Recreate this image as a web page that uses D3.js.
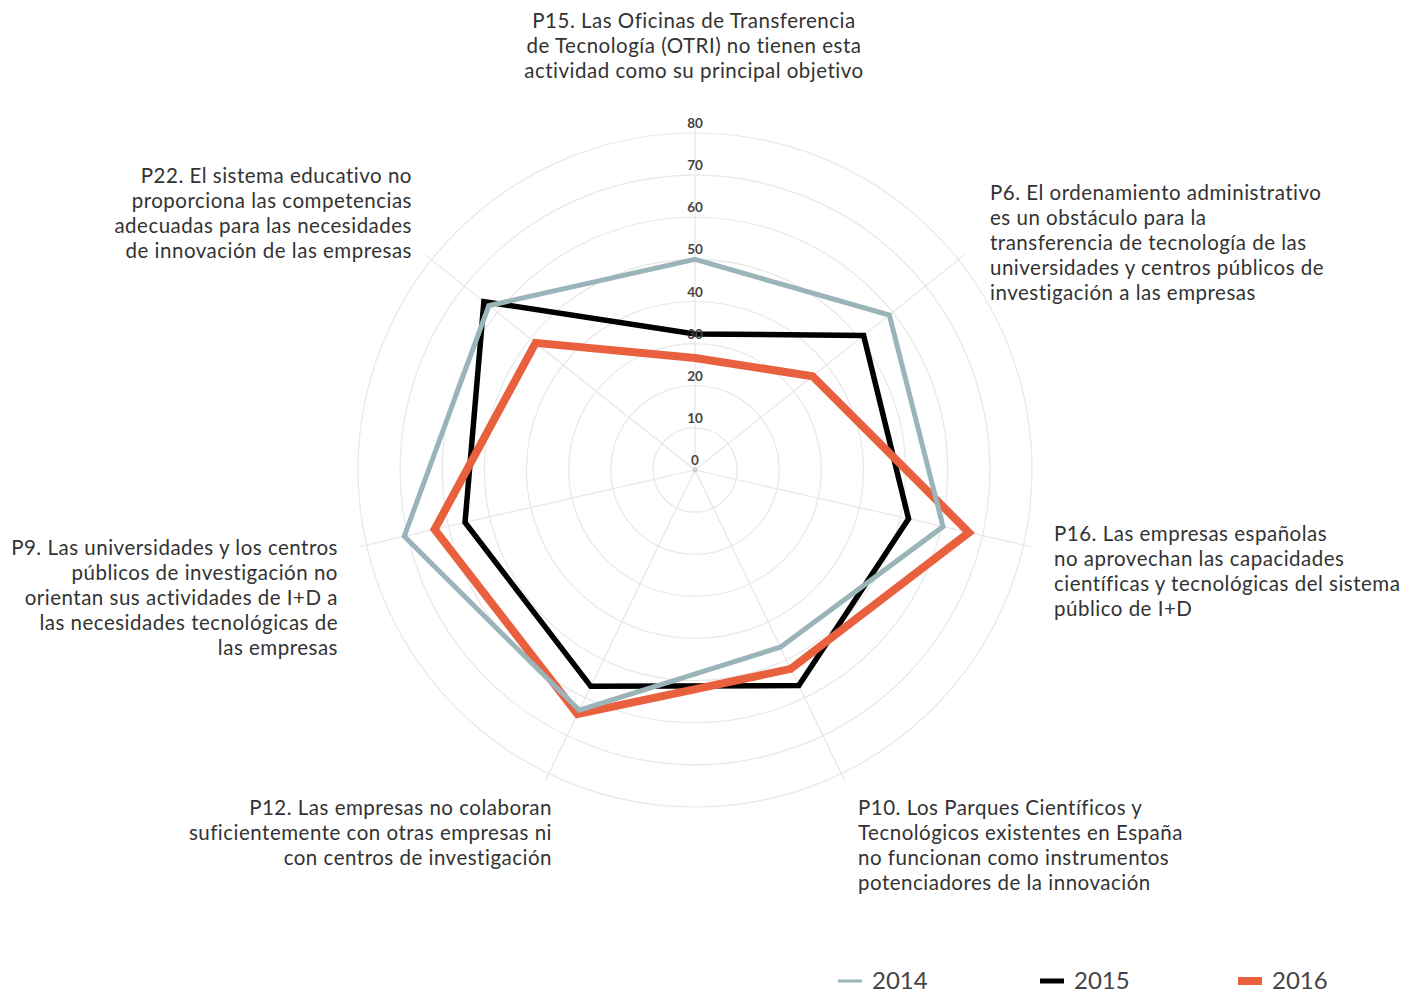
<!DOCTYPE html>
<html>
<head>
<meta charset="utf-8">
<script src="https://cdn.jsdelivr.net/npm/d3@7"></script>
<style>
  html, body { margin: 0; padding: 0; background: #fff; }
  svg { display: block; }
  text { font-family: Lato, "Open Sans", sans-serif; font-variant-ligatures: none; }
</style>
</head>
<body>
<svg id="chart" width="1411" height="995"></svg>
<script>
// Axes of the radar, clockwise from the top
const categories = ["P15", "P6", "P16", "P10", "P12", "P9", "P22"];

const categoryLabels = [
  ["P15. Las Oficinas de Transferencia", "de Tecnología (OTRI) no tienen esta", "actividad como su principal objetivo"],
  ["P6. El ordenamiento administrativo", "es un obstáculo para la", "transferencia de tecnología de las", "universidades y centros públicos de", "investigación a las empresas"],
  ["P16. Las empresas españolas", "no aprovechan las capacidades", "científicas y tecnológicas del sistema", "público de I+D"],
  ["P10. Los Parques Científicos y", "Tecnológicos existentes en España", "no funcionan como instrumentos", "potenciadores de la innovación"],
  ["P12. Las empresas no colaboran", "suficientemente con otras empresas ni", "con centros de investigación"],
  ["P9. Las universidades y los centros", "públicos de investigación no", "orientan sus actividades de I+D a", "las necesidades tecnológicas de", "las empresas"],
  ["P22. El sistema educativo no", "proporciona las competencias", "adecuadas para las necesidades", "de innovación de las empresas"]
];

const seriesNames = ["2014", "2015", "2016"];
const values2014 = [50, 59, 60.4, 46.7, 63.3, 70.8, 62.6];
const values2015 = [32.3, 51.2, 52, 56.8, 57, 56, 64.1];
const values2016 = [26.6, 35.7, 66.7, 52.4, 64.3, 63.4, 48.4];

const radialTicks = [0, 10, 20, 30, 40, 50, 60, 70, 80];

const colors = { "2014": "#9bb4ba", "2015": "#000000", "2016": "#e9603f" };
const widths = { "2014": 5, "2015": 5.5, "2016": 8 };

const svg = d3.select("#chart");
const cx = 695, cy = 470;
const r = d3.scaleLinear().domain([0, 80]).range([0, 337]);
const angle = d3.scalePoint().domain(categories.concat(["_end"])).range([0, 2 * Math.PI]);

const g = svg.append("g").attr("transform", `translate(${cx},${cy})`);

// Concentric grid circles
g.selectAll("circle.grid")
  .data(radialTicks.filter(d => d > 0))
  .join("circle")
  .attr("class", "grid")
  .attr("r", d => r(d))
  .attr("fill", "none")
  .attr("stroke", "#e8e8e8")
  .attr("stroke-width", 1.2);

// Spokes
g.selectAll("line.spoke")
  .data(categories)
  .join("line")
  .attr("class", "spoke")
  .attr("x1", 0).attr("y1", 0)
  .attr("x2", d => Math.sin(angle(d)) * (r(80) + 8))
  .attr("y2", d => -Math.cos(angle(d)) * (r(80) + 8))
  .attr("stroke", "#e6e6e6")
  .attr("stroke-width", 1.2);

g.append("circle").attr("r", 2.5).attr("fill", "#cfcfcf");

// Series polygons
const line = d3.lineRadial()
  .angle((d, i) => angle(categories[i]))
  .radius(d => r(d))
  .curve(d3.curveLinearClosed);

const seriesData = { "2014": values2014, "2015": values2015, "2016": values2016 };
["2015", "2016", "2014"].forEach(name => {
  g.append("path")
    .datum(seriesData[name])
    .attr("d", line)
    .attr("fill", "none")
    .attr("stroke", colors[name])
    .attr("stroke-width", widths[name])
    .attr("stroke-linejoin", "miter");
});

// Radial tick labels
g.selectAll("text.tick")
  .data(radialTicks)
  .join("text")
  .attr("class", "tick")
  .attr("x", 0)
  .attr("y", d => -r(d) - 5)
  .attr("text-anchor", "middle")
  .attr("font-size", 13.5)
  .attr("font-weight", 700)
  .attr("fill", "#444")
  .text(d => d);

// Category labels
const labelPos = [
  { x: 694, y: 28, anchor: "middle" },
  { x: 990, y: 200, anchor: "start" },
  { x: 1054, y: 541, anchor: "start" },
  { x: 858, y: 815, anchor: "start" },
  { x: 552, y: 815, anchor: "end" },
  { x: 338, y: 555, anchor: "end" },
  { x: 412, y: 183, anchor: "end" }
];

categories.forEach((c, i) => {
  const p = labelPos[i];
  const t = svg.append("text")
    .attr("x", p.x).attr("y", p.y)
    .attr("text-anchor", p.anchor)
    .attr("font-size", 20.5)
    .attr("letter-spacing", 0.5)
    .attr("fill", "#333");
  categoryLabels[i].forEach((ln, j) => {
    t.append("tspan").attr("x", p.x).attr("dy", j === 0 ? 0 : 25).text(ln);
  });
});

// Legend
const legendX = [838, 1040, 1238];
seriesNames.forEach((name, i) => {
  const lg = svg.append("g").attr("transform", `translate(${legendX[i]},981)`);
  lg.append("line")
    .attr("x1", 0).attr("x2", 24).attr("y1", 0).attr("y2", 0)
    .attr("stroke", colors[name])
    .attr("stroke-width", i === 0 ? 3 : (i === 1 ? 5 : 8));
  lg.append("text")
    .attr("x", 34).attr("y", 8)
    .attr("font-size", 24)
    .attr("fill", "#444")
    .text(name);
});
</script>
</body>
</html>
